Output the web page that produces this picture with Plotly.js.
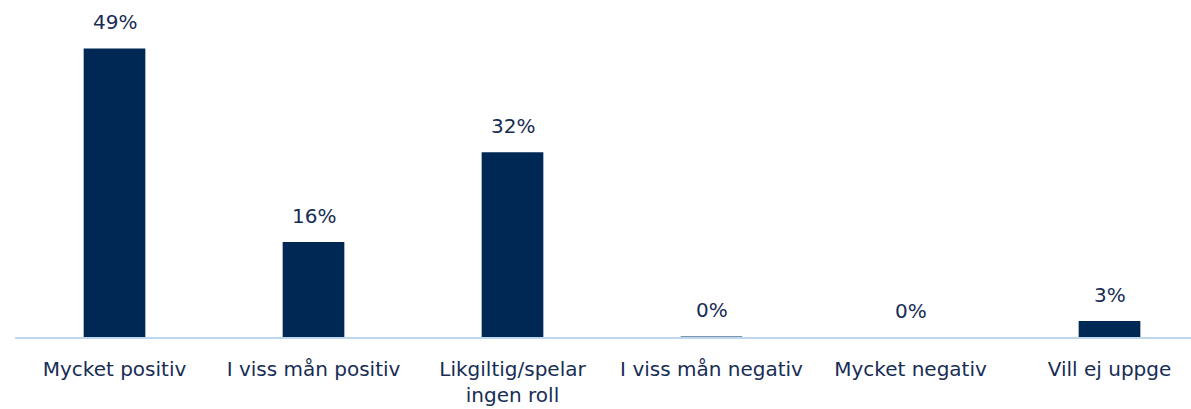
<!DOCTYPE html>
<html>
<head>
<meta charset="utf-8">
<script src="https://cdn.plot.ly/plotly-3.0.1.min.js"></script>
<style>html,body{margin:0;padding:0;background:#fff;}#chart{width:1191px;height:409px;}</style>
</head>
<body>
<div id="chart"></div>
<script>
const categories = ["Mycket positiv", "I viss mån positiv", "Likgiltig/spelar<br>ingen roll", "I viss mån negativ", "Mycket negativ", "Vill ej uppge"];
const values = [48.9, 16.1, 31.3, 0.1, 0, 2.7];
const labels = ["49%", "16%", "32%", "0%", "0%", "3%"];

const barColor = "#002855";
const textColor = "#172D55";
const fontFam = "Verdana, 'DejaVu Sans', sans-serif";

const annotations = categories.map((c, i) => ({
  x: c, y: values[i], xref: "x", yref: "y",
  text: labels[i], showarrow: false, yanchor: "bottom", yshift: 12,
  font: {family: fontFam, size: 20, color: textColor}
}));

Plotly.newPlot("chart", [{
  type: "bar",
  x: categories,
  y: values,
  marker: {color: barColor},
  hoverinfo: "none"
}], {
  width: 1191, height: 409,
  margin: {l: 15, r: 0, t: 0, b: 72},
  paper_bgcolor: "#fff", plot_bgcolor: "#fff",
  bargap: 0.69,
  showlegend: false,
  xaxis: {
    type: "category",
    range: [-0.5, 5.4095],
    showline: true, linecolor: "#BDD7EE", linewidth: 2,
    ticks: "", ticklabelstandoff: 13,
    tickfont: {family: fontFam, size: 20, color: textColor},
    showgrid: false, zeroline: false, fixedrange: true
  },
  yaxis: {
    range: [0, 57.1],
    visible: false, showgrid: false, zeroline: false, fixedrange: true
  },
  annotations: annotations
}, {displayModeBar: false, staticPlot: true});
</script>
</body>
</html>
